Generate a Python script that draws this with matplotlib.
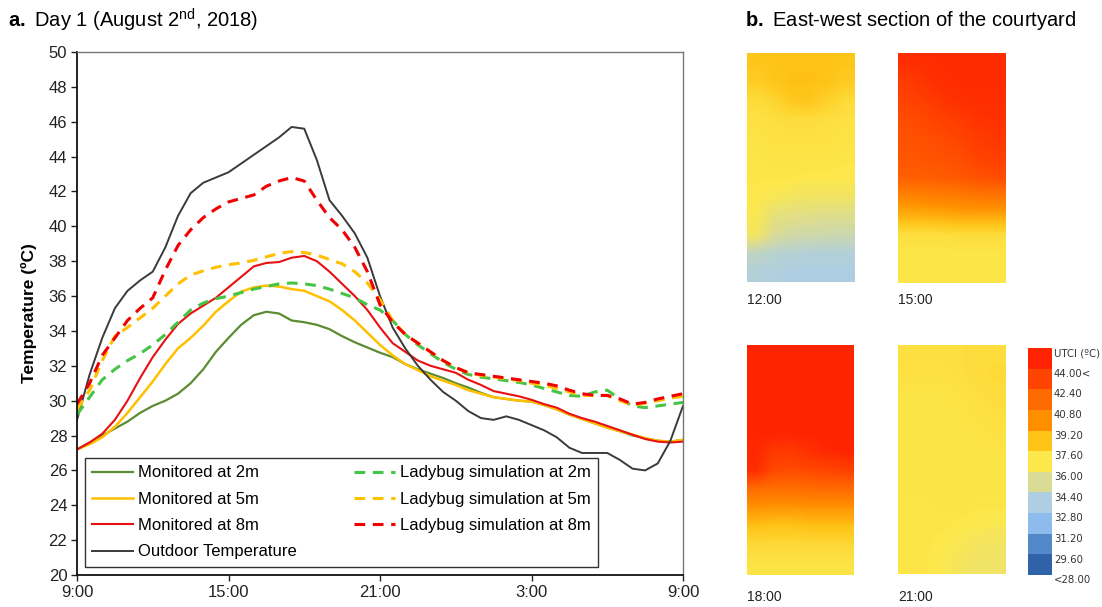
import numpy as np
import matplotlib

matplotlib.use("Agg")

import matplotlib.pyplot as plt
import matplotlib.transforms as mtransforms
from matplotlib.colors import ListedColormap, LinearSegmentedColormap, Normalize

plt.rcParams["font.family"] = ["Liberation Sans", "DejaVu Sans"]
plt.rcParams["mathtext.fontset"] = "custom"
plt.rcParams["mathtext.rm"] = "Liberation Sans"
plt.rcParams["mathtext.bf"] = "Liberation Sans:bold"

W, H = 1102, 607

# hours after 9:00 on day 1
HOURS = [0, 0.5, 1, 1.5, 2, 2.5, 3, 3.5, 4, 4.5, 5, 5.5, 6, 6.5, 7, 7.5, 8, 8.5,
         9, 9.5, 10, 10.5, 11, 11.5, 12, 12.5, 13, 13.5, 14, 14.5, 15, 15.5, 16,
         16.5, 17, 17.5, 18, 18.5, 19, 19.5, 20, 20.5, 21, 21.5, 22, 22.5, 23,
         23.5, 24]
XTICKS = [0, 6, 12, 18, 24]
XTICK_LABELS = ["9:00", "15:00", "21:00", "3:00", "9:00"]

outdoor = [28.9, 31.5, 33.6, 35.3, 36.3, 36.9, 37.4, 38.8, 40.6, 41.9, 42.5, 42.8,
           43.1, 43.6, 44.1, 44.6, 45.1, 45.7, 45.6, 43.8, 41.5, 40.6, 39.6, 38.2,
           36.0, 34.2, 33.0, 32.0, 31.2, 30.5, 30.0, 29.4, 29.0, 28.9, 29.1, 28.9,
           28.6, 28.3, 27.9, 27.3, 27.0, 27.0, 27.0, 26.6, 26.1, 26.0, 26.4, 27.7,
           29.7]
mon_2m = [27.2, 27.6, 28.0, 28.4, 28.8, 29.3, 29.7, 30.0, 30.4, 31.0, 31.8, 32.8,
          33.6, 34.35, 34.9, 35.1, 35.0, 34.6, 34.5, 34.35, 34.1, 33.7, 33.35,
          33.05, 32.75, 32.5, 32.1, 31.8, 31.55, 31.3, 31.0, 30.75, 30.45, 30.2,
          30.1, 30.0, 29.95, 29.75, 29.5, 29.2, 28.95, 28.7, 28.45, 28.25, 28.0,
          27.85, 27.7, 27.65, 27.75]
mon_5m = [27.2, 27.5, 27.9, 28.5, 29.3, 30.2, 31.1, 32.1, 33.0, 33.6, 34.3, 35.1,
          35.7, 36.25, 36.5, 36.6, 36.55, 36.4, 36.3, 36.0, 35.7, 35.2, 34.6, 33.9,
          33.2, 32.6, 32.1, 31.75, 31.4, 31.15, 30.9, 30.6, 30.4, 30.2, 30.1, 30.0,
          29.95, 29.75, 29.5, 29.2, 28.95, 28.7, 28.45, 28.25, 28.05, 27.85, 27.7,
          27.65, 27.75]
mon_8m = [27.2, 27.6, 28.1, 28.9, 30.0, 31.3, 32.5, 33.5, 34.4, 35.0, 35.45, 35.9,
          36.5, 37.1, 37.7, 37.9, 37.95, 38.2, 38.3, 38.0, 37.4, 36.7, 36.0, 35.2,
          34.2, 33.3, 32.8, 32.3, 32.0, 31.8, 31.6, 31.2, 30.9, 30.55, 30.4, 30.25,
          30.05, 29.8, 29.6, 29.25, 29.0, 28.8, 28.55, 28.3, 28.05, 27.8, 27.65,
          27.6, 27.65]
lady_2m = [29.2, 30.2, 31.2, 31.8, 32.3, 32.7, 33.2, 33.8, 34.5, 35.2, 35.6, 35.85,
           36.0, 36.2, 36.4, 36.55, 36.7, 36.75, 36.7, 36.6, 36.4, 36.15, 35.9, 35.5,
           35.2, 34.6, 33.8, 33.2, 32.7, 32.2, 31.8, 31.5, 31.35, 31.25, 31.15,
           31.05, 30.9, 30.7, 30.5, 30.3, 30.25, 30.5, 30.6, 30.1, 29.7, 29.6, 29.7,
           29.8, 29.9]
lady_5m = [29.5, 30.6, 32.3, 33.7, 34.2, 34.75, 35.3, 36.0, 36.7, 37.2, 37.45, 37.65,
           37.8, 37.9, 38.05, 38.25, 38.45, 38.55, 38.5, 38.35, 38.1, 37.85, 37.4,
           36.75, 35.8, 34.6, 33.8, 33.3, 32.8, 32.3, 31.9, 31.6, 31.45, 31.35,
           31.25, 31.15, 31.0, 30.9, 30.7, 30.5, 30.3, 30.3, 30.3, 30.0, 29.75,
           29.85, 30.0, 30.15, 30.25]
lady_8m = [29.8, 31.0, 32.6, 33.6, 34.6, 35.3, 35.9, 37.5, 38.9, 39.8, 40.5, 41.0,
           41.4, 41.6, 41.8, 42.3, 42.6, 42.8, 42.6, 41.5, 40.5, 39.8, 38.8, 37.4,
           35.5, 34.5, 33.8, 33.3, 32.8, 32.3, 31.9, 31.6, 31.5, 31.4, 31.3, 31.2,
           31.1, 31.0, 30.85, 30.6, 30.4, 30.3, 30.3, 30.1, 29.8, 29.9, 30.1, 30.25,
           30.4]

# UTCI grids (rows top to bottom, columns west to east)
utci_12 = [
    [38.3, 38.4, 38.4, 38.4, 38.4, 38.3],
    [38.0, 38.3, 38.5, 38.5, 38.4, 38.1],
    [37.3, 37.6, 38.2, 38.3, 37.8, 37.4],
    [37.1, 37.2, 37.3, 37.3, 37.2, 37.1],
    [37.0, 37.1, 37.1, 37.1, 37.1, 37.0],
    [36.9, 37.0, 37.0, 37.0, 37.0, 36.9],
    [36.9, 36.9, 36.9, 36.8, 36.8, 36.8],
    [36.8, 36.6, 36.4, 36.3, 36.3, 36.3],
    [36.7, 35.8, 35.6, 35.5, 35.4, 35.4],
    [36.4, 35.2, 34.9, 34.8, 34.7, 34.7],
    [34.2, 34.0, 33.9, 33.8, 33.8, 33.8],
    [33.8, 33.7, 33.6, 33.6, 33.6, 33.6],
]
utci_15 = [
    [44.3, 44.3, 44.4, 44.4, 44.4, 44.4],
    [43.6, 44.0, 44.3, 44.4, 44.4, 44.4],
    [43.2, 43.5, 43.9, 44.2, 44.3, 44.3],
    [42.8, 43.0, 43.3, 43.6, 44.0, 44.1],
    [42.6, 42.7, 42.9, 43.2, 43.6, 43.8],
    [42.4, 42.5, 42.6, 42.8, 43.2, 43.4],
    [42.0, 42.1, 42.2, 42.4, 42.6, 42.8],
    [40.4, 40.5, 40.6, 40.8, 41.0, 41.0],
    [38.9, 39.0, 39.1, 39.2, 39.2, 39.2],
    [37.2, 37.2, 37.2, 37.3, 37.3, 37.3],
    [36.9, 36.9, 36.9, 36.9, 36.9, 36.9],
    [36.9, 36.9, 36.9, 36.9, 36.9, 36.9],
]
utci_18 = [
    [44.9, 44.9, 44.9, 44.9, 44.9, 44.9],
    [44.9, 44.9, 44.9, 44.9, 44.9, 44.9],
    [44.9, 44.9, 44.9, 44.9, 44.9, 44.9],
    [44.9, 44.9, 44.9, 44.9, 44.9, 44.9],
    [44.7, 44.9, 44.9, 44.9, 44.9, 44.9],
    [44.6, 43.8, 43.7, 44.2, 44.6, 44.8],
    [44.4, 43.0, 42.9, 43.0, 43.2, 43.4],
    [41.5, 41.4, 41.4, 41.5, 41.6, 41.6],
    [39.8, 39.7, 39.7, 39.8, 39.8, 39.8],
    [38.4, 38.3, 38.3, 38.4, 38.4, 38.4],
    [37.4, 37.4, 37.4, 37.4, 37.4, 37.4],
    [37.0, 37.0, 37.0, 37.0, 37.0, 37.0],
]
utci_21 = [
    [37.2, 37.2, 37.2, 37.2, 37.3, 37.3],
    [37.1, 37.1, 37.1, 37.2, 37.3, 37.4],
    [37.0, 37.0, 37.0, 37.1, 37.2, 37.3],
    [37.0, 37.0, 37.0, 37.0, 37.1, 37.2],
    [37.0, 37.0, 37.0, 37.0, 37.0, 37.1],
    [37.0, 37.0, 37.0, 37.0, 37.0, 37.0],
    [37.0, 37.0, 37.0, 37.0, 37.0, 37.0],
    [37.0, 37.0, 37.0, 37.0, 37.0, 37.0],
    [36.9, 36.9, 37.0, 37.0, 36.9, 36.9],
    [36.9, 36.9, 36.9, 36.8, 36.7, 36.6],
    [36.9, 36.9, 36.8, 36.6, 36.4, 36.3],
    [36.9, 36.9, 36.7, 36.4, 36.2, 36.2],
]
SECTION_TIMES = ["12:00", "15:00", "18:00", "21:00"]

UTCI_BOUNDS = [28.0, 29.6, 31.2, 32.8, 34.4, 36.0, 37.6, 39.2, 40.8, 42.4, 44.0, 45.6]
UTCI_LABELS = ["<28.00", "29.60", "31.20", "32.80", "34.40", "36.00", "37.60",
               "39.20", "40.80", "42.40", "44.00<", "UTCI (ºC)"]
UTCI_COLORS = ["#2f62a8", "#5489c9", "#8dbbee", "#aecfe2", "#dadc95", "#fde84c",
               "#ffc418", "#ff8e00", "#ff6a00", "#ff4400", "#ff2400"]


def px_axes(fig, x0, y0, x1, y1):
    return fig.add_axes([x0 / W, 1 - y1 / H, (x1 - x0) / W, (y1 - y0) / H])


fig = plt.figure(figsize=(W / 100, H / 100), dpi=100)

# ---- a. line chart
ax = px_axes(fig, 77, 52, 683, 575)

series = [
    (mon_2m, "Monitored at 2m", "#5b8c32", "-", 1.6),
    (mon_5m, "Monitored at 5m", "#ffc000", "-", 1.8),
    (mon_8m, "Monitored at 8m", "#e81010", "-", 1.5),
    (outdoor, "Outdoor Temperature", "#3a3a3a", "-", 1.4),
    (lady_2m, "Ladybug simulation at 2m", "#45c445", "--", 2.2),
    (lady_5m, "Ladybug simulation at 5m", "#ffc000", "--", 2.2),
    (lady_8m, "Ladybug simulation at 8m", "#f00000", "--", 2.2),
]
handles = []
for values, label, color, ls, lw in series:
    line, = ax.plot(HOURS, values, color=color, lw=lw, ls=ls, label=label)
    if ls == "--":
        line.set_dashes((3.5, 2.5))
    handles.append(line)

ax.set_xlim(0, 24)
ax.set_ylim(20, 50)
ax.set_xticks(XTICKS)
ax.set_xticklabels(XTICK_LABELS)
ax.set_yticks(range(20, 51, 2))
ax.tick_params(labelsize=12, colors="#222222", length=4, width=1, pad=3)
ax.set_ylabel("Temperature (ºC)", fontsize=12.5, fontweight="bold", labelpad=8)
for side in ["left", "bottom"]:
    ax.spines[side].set_linewidth(1.3)
    ax.spines[side].set_color("#111111")
for side in ["top", "right"]:
    ax.spines[side].set_linewidth(1.0)
    ax.spines[side].set_color("#777777")

leg = ax.legend(handles=handles, ncol=2, loc="lower left",
                bbox_to_anchor=(0.0132, 0.0153), borderaxespad=0,
                fontsize=12, handlelength=2.45, handletextpad=0.3,
                columnspacing=3.4, labelspacing=0.68, borderpad=0.45,
                fancybox=False, framealpha=1)
leg.get_frame().set_edgecolor("#333333")
leg.get_frame().set_linewidth(1.0)

fig.text(8 / W, 1 - 20 / H,
         r"$\mathbf{a.}$ Day 1 (August 2$^{\mathrm{nd}}$, 2018)",
         fontsize=14.5, va="center", ha="left")

# ---- b. UTCI sections
fig.text(745 / W, 1 - 20 / H,
         r"$\mathbf{b.}$ East-west section of the courtyard",
         fontsize=14.5, va="center", ha="left")

stops = [(0.0, UTCI_COLORS[0])]
for i, c in enumerate(UTCI_COLORS):
    mid = (UTCI_BOUNDS[i] + UTCI_BOUNDS[i + 1]) / 2
    stops.append(((mid - UTCI_BOUNDS[0]) / (UTCI_BOUNDS[-1] - UTCI_BOUNDS[0]), c))
stops.append((1.0, UTCI_COLORS[-1]))
utci_cmap = LinearSegmentedColormap.from_list("utci", stops)
utci_norm = Normalize(UTCI_BOUNDS[0], UTCI_BOUNDS[-1])

panels = [
    (utci_12, (747, 53, 855, 282), (747, 300)),
    (utci_15, (898, 53, 1006, 283), (898, 300)),
    (utci_18, (747, 345, 854, 575), (747, 597)),
    (utci_21, (898, 345, 1006, 574), (898, 597)),
]
for (grid, box, lab), name in zip(panels, SECTION_TIMES):
    hax = px_axes(fig, *box)
    hax.imshow(np.array(grid), cmap=utci_cmap, norm=utci_norm, aspect="auto",
               interpolation="bilinear")
    hax.axis("off")
    fig.text(lab[0] / W, 1 - lab[1] / H, name, fontsize=10, va="center",
             ha="left", color="#222222")

# ---- legend of UTCI classes
cax = px_axes(fig, 1028, 348, 1052, 575)
cax.imshow(np.arange(len(UTCI_COLORS))[:, None],
           cmap=ListedColormap(UTCI_COLORS), origin="lower", aspect="auto",
           extent=(0, 1, UTCI_BOUNDS[0], UTCI_BOUNDS[-1]),
           interpolation="nearest")
cax.set_xlim(0, 1)
cax.set_ylim(UTCI_BOUNDS[0], UTCI_BOUNDS[-1])
cax.axis("off")
trans = mtransforms.blended_transform_factory(cax.transAxes, cax.transData)
for b, lab in zip(UTCI_BOUNDS, UTCI_LABELS):
    cax.text(1.08, b - 0.4, lab, transform=trans, fontsize=7.3,
             family="DejaVu Sans", va="center", ha="left", color="#333333",
             clip_on=False)

fig.savefig("out.png", dpi=100)
